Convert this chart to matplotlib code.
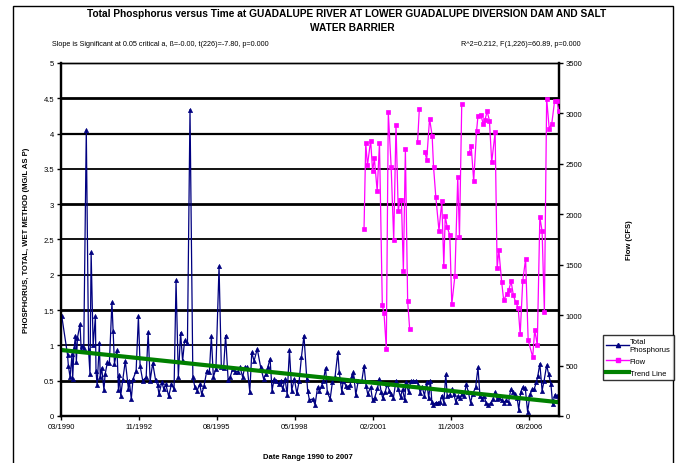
import numpy as np
import matplotlib
matplotlib.use("Agg")
import matplotlib.pyplot as plt
import matplotlib.dates as mdates
from matplotlib.lines import Line2D
from matplotlib.patches import Rectangle
from datetime import datetime, timedelta

plt.rcParams['font.family'] = ['Liberation Sans', 'DejaVu Sans']

# Total phosphorus samples (decimal year, mg/L)
p_year = [1990.19, 1990.39, 1990.42, 1990.48, 1990.55, 1990.57, 1990.62, 1990.67, 1990.70, 1990.74,
          1990.83, 1990.87, 1990.91, 1990.96, 1991.05, 1991.13, 1991.18, 1991.22, 1991.29, 1991.37,
          1991.39, 1991.43, 1991.51, 1991.54, 1991.59, 1991.67, 1991.71, 1991.79, 1991.86, 1991.95,
          1991.99, 1992.04, 1992.13, 1992.18, 1992.21, 1992.26, 1992.33, 1992.42, 1992.53, 1992.56,
          1992.63, 1992.69, 1992.80, 1992.88, 1992.94, 1993.03, 1993.15, 1993.22, 1993.29, 1993.38,
          1993.48, 1993.55, 1993.60, 1993.70, 1993.77, 1993.84, 1993.94, 1994.04, 1994.13, 1994.20,
          1994.28, 1994.36, 1994.43, 1994.50, 1994.60, 1994.69, 1994.79, 1994.86, 1994.94, 1995.03,
          1995.10, 1995.18, 1995.28, 1995.37, 1995.44, 1995.51, 1995.60, 1995.71, 1995.79, 1995.87,
          1995.94, 1996.03, 1996.10, 1996.19, 1996.28, 1996.37, 1996.45, 1996.54, 1996.61, 1996.70,
          1996.79, 1996.86, 1996.94, 1997.05, 1997.17, 1997.27, 1997.35, 1997.42, 1997.50, 1997.57,
          1997.64, 1997.72, 1997.80, 1997.87, 1997.94, 1998.03, 1998.10, 1998.18, 1998.26, 1998.35,
          1998.44, 1998.52, 1998.60, 1998.69, 1998.79, 1998.82, 1998.88,
          1999.00, 1999.08, 1999.17, 1999.23, 1999.31, 1999.37, 1999.45, 1999.51, 1999.61, 1999.69,
          1999.78, 1999.88, 1999.93, 2000.02, 2000.07, 2000.16, 2000.23, 2000.31, 2000.37, 2000.43,
          2000.51, 2000.60, 2000.72, 2000.80, 2000.87, 2000.93, 2001.03, 2001.10, 2001.17, 2001.27,
          2001.33, 2001.40, 2001.45, 2001.54, 2001.61, 2001.69, 2001.76, 2001.83, 2001.92, 2002.00,
          2002.08, 2002.15, 2002.23, 2002.27, 2002.36, 2002.44, 2002.53, 2002.63, 2002.71, 2002.77,
          2002.84, 2002.92, 2003.00, 2003.07, 2003.13, 2003.18, 2003.23, 2003.32, 2003.39, 2003.47,
          2003.53, 2003.60, 2003.67, 2003.72, 2003.81, 2003.88, 2003.95, 2004.02, 2004.10, 2004.17,
          2004.25, 2004.32, 2004.39, 2004.46, 2004.54, 2004.61, 2004.72, 2004.80, 2004.87, 2004.94,
          2005.01, 2005.08, 2005.16, 2005.25, 2005.32, 2005.40, 2005.47, 2005.55, 2005.63, 2005.70,
          2005.78, 2005.87, 2005.95, 2006.02, 2006.10, 2006.17, 2006.23, 2006.30, 2006.37, 2006.46,
          2006.54, 2006.63, 2006.71, 2006.77, 2006.85, 2006.90, 2006.97, 2007.05, 2007.12, 2007.21,
          2007.28, 2007.36, 2007.42, 2007.50, 2007.56, 2007.64]
p_val = [1.41, 0.87, 0.71, 0.55, 0.88, 0.52, 0.96, 1.14, 0.76, 1.11,
         1.30, 0.93, 0.99, 0.97, 4.05, 0.93, 0.59, 2.32, 1.00, 1.41,
         0.64, 0.44, 1.03, 0.55, 0.68, 0.37, 0.59, 0.76, 0.75, 1.61,
         1.21, 0.74, 0.93, 0.37, 0.58, 0.29, 0.51, 0.78, 0.38, 0.50,
         0.24, 0.52, 0.64, 1.41, 0.71, 0.50, 0.55, 1.19, 0.50, 0.75,
         0.51, 0.44, 0.31, 0.48, 0.38, 0.45, 0.28, 0.45, 0.38, 1.92,
         0.55, 1.18, 0.78, 1.07, 1.04, 4.34, 0.55, 0.41, 0.36, 0.45,
         0.31, 0.42, 0.64, 0.62, 1.13, 0.55, 0.67, 2.12, 0.69, 0.68,
         1.14, 0.51, 0.55, 0.67, 0.63, 0.63, 0.69, 0.55, 0.69, 0.69,
         0.34, 0.90, 0.78, 0.95, 0.69, 0.53, 0.59, 0.69, 0.81, 0.36,
         0.52, 0.49, 0.45, 0.50, 0.38, 0.52, 0.30, 0.93, 0.36, 0.53,
         0.32, 0.49, 0.83, 1.14, 0.52, 0.36, 0.23,
         0.24, 0.16, 0.41, 0.36, 0.43, 0.50, 0.68, 0.34, 0.24, 0.48,
         0.55, 0.90, 0.62, 0.34, 0.50, 0.43, 0.41, 0.44, 0.57, 0.62,
         0.30, 0.50, 0.49, 0.71, 0.43, 0.31, 0.41, 0.22, 0.26, 0.39,
         0.52, 0.34, 0.26, 0.34, 0.45, 0.36, 0.31, 0.26, 0.50, 0.38,
         0.27, 0.38, 0.22, 0.48, 0.34, 0.49, 0.49, 0.50, 0.44, 0.33,
         0.41, 0.29, 0.48, 0.25, 0.50, 0.20, 0.16, 0.19, 0.19, 0.20,
         0.29, 0.19, 0.59, 0.28, 0.30, 0.38, 0.31, 0.20, 0.29, 0.26,
         0.31, 0.29, 0.45, 0.34, 0.19, 0.31, 0.41, 0.69, 0.28, 0.24,
         0.29, 0.19, 0.15, 0.19, 0.24, 0.34, 0.24, 0.25, 0.23, 0.19,
         0.22, 0.19, 0.38, 0.34, 0.31, 0.26, 0.09, 0.34, 0.41, 0.39,
         0.06, 0.31, 0.38, 0.38, 0.48, 0.57, 0.74, 0.36, 0.50, 0.72,
         0.59, 0.45, 0.17, 0.30, 0.29, 0.25]

# Flow (decimal year, cfs); nan marks breaks in the record
flow_year = [2000.80, 2000.86, 2000.92, 2001.03, 2001.10, 2001.16, 2001.26, 2001.34, 2001.44, 2001.50,
             2001.58, 2001.65, 2001.75, 2001.84, 2001.92, 2002.00, 2002.06, 2002.11, 2002.18, 2002.25,
             2002.33, 2002.40, 2002.55, 2002.68, 2002.74, 2002.84, 2002.93, 2003.00, 2003.10, 2003.19,
             2003.24, 2003.32, 2003.43, 2003.53, 2003.60, 2003.65, 2003.72, 2003.81, 2003.88, 2003.99,
             2004.09, 2004.15, 2004.23, 2004.36, 2004.49, 2004.56, 2004.65, 2004.75, 2004.80, 2004.90,
             2004.98, 2005.04, 2005.12, 2005.20, 2005.28, 2005.40, 2005.47, 2005.53, 2005.63, 2005.70,
             2005.80, 2005.88, 2005.96, 2006.04, 2006.12, 2006.21, 2006.28, 2006.37, 2006.47, 2006.56,
             2006.72, 2006.79, 2006.88, 2006.97, 2007.05, 2007.13, 2007.21, 2007.30, 2007.39, 2007.49,
             2007.56, 2007.64]
flow_val = [1856, 2708, 2486, 2731, 2427, 2556, 2229, 2708, 1096, 1017,
            667, 3011, 2470, 1743, 2883, 2031, 2146, 2146, 1436, 2652,
            1136, 865, np.nan, 2721, 3048, np.nan, 2618, 2543, 2949, 2780,
            2467, 2169, 1839, 2130, 1486, 1981, 1872, 1793, 1106, 1393,
            2367, 1776, 3091, np.nan, 2609, 2681, 2328, 2823, 2978, 2988,
            2899, 2932, 3021, 2929, 2516, 2813, 1463, 1644, 1327, 1149,
            1205, 1248, 1337, 1199, 1129, 1073, 809, 1337, 1559, 753,
            584, 852, 703, 1971, 1833, 1034, 3147, 2850, 2899, 3127,
            3127, 3028]


def to_date(y):
    yr = int(y)
    return datetime(yr, 1, 1) + timedelta(days=(y - yr) * 365.25)


p_dates = [to_date(y) for y in p_year]
flow_dates = [to_date(y) for y in flow_year]

# linear trend of phosphorus against time
p_num = mdates.date2num(p_dates)
slope, icept = np.polyfit(p_num, p_val, 1)

start = datetime(1990, 3, 1)
end = start + timedelta(days=6385)
trend_x = mdates.date2num([start, end])

fig = plt.figure(figsize=(6.8, 4.64), dpi=100)
fig.add_artist(Rectangle((13 / 680, -0.05), 660 / 680, 1 - 7 / 464 + 0.05,
                         transform=fig.transFigure, fill=False, ec='black', lw=1))

ax = fig.add_axes([61 / 680, 1 - 417 / 464, 498 / 680, 353 / 464])
ax2 = ax.twinx()

grid_w = [2.0, 1.3, 2.0, 1.3, 1.3, 2.0, 1.3, 1.6, 2.0]
for g, w in zip(np.arange(0.5, 5.0, 0.5), grid_w):
    ax.axhline(g, color='black', lw=w, zorder=1)

ax.plot(p_dates, p_val, color='#000080', lw=0.9, marker='^', ms=3.0,
        markeredgewidth=0.5, zorder=3)
ax.plot(trend_x, slope * trend_x + icept, color='#008000', lw=3, zorder=4)
ax2.plot(flow_dates, flow_val, color='#FF00FF', lw=0.9, marker='s', ms=2.8,
         markeredgewidth=0.5, zorder=3)

ax.set_ylim(0, 5)
ax.set_yticks(np.arange(0, 5.01, 0.5))
ax.set_yticklabels(['0', '0.5', '1', '1.5', '2', '2.5', '3', '3.5', '4', '4.5', '5'])
ax2.set_ylim(0, 3500)
ax2.set_yticks(np.arange(0, 3501, 500))

ax.set_xlim(start, end)
ax.set_xticks([start + timedelta(days=1000 * k) for k in range(7)])
ax.xaxis.set_major_formatter(mdates.DateFormatter('%m/%Y'))

for a in (ax, ax2):
    a.tick_params(labelsize=5.5, length=3, width=1, colors='black', pad=2)
    for s in a.spines.values():
        s.set_linewidth(1)
    a.spines['left'].set_linewidth(1.6)
    a.spines['bottom'].set_linewidth(1.6)
    a.spines['right'].set_linewidth(1.6)

ax.set_ylabel('PHOSPHORUS, TOTAL, WET METHOD (MG/L AS P)', fontsize=5.5,
              fontweight='bold', labelpad=10)
ax2.set_ylabel('Flow (CFS)', fontsize=5.5, fontweight='bold', labelpad=31)
fig.text(308 / 680, 1 - 458 / 464, 'Date Range 1990 to 2007', ha='center', va='center',
         fontsize=5.5, fontweight='bold')

fig.text(347 / 680, 1 - 14 / 464, 'Total Phosphorus versus Time at GUADALUPE RIVER AT LOWER GUADALUPE DIVERSION DAM AND SALT',
         ha='center', va='center', fontsize=7.3, fontweight='bold')
fig.text(352 / 680, 1 - 28 / 464, 'WATER BARRIER', ha='center', va='center',
         fontsize=7.3, fontweight='bold')
fig.text(52 / 680, 1 - 45 / 464,
         'Slope is Significant at 0.05 critical a, \u00df=-0.00, t(226)=-7.80, p=0.000',
         ha='left', va='center', fontsize=5.2)
fig.text(581 / 680, 1 - 45 / 464, 'R^2=0.212, F(1,226)=60.89, p=0.000',
         ha='right', va='center', fontsize=5.2)

handles = [Line2D([], [], color='#000080', marker='^', ms=3, lw=1),
           Line2D([], [], color='#FF00FF', marker='s', ms=3, lw=1),
           Line2D([], [], color='#008000', lw=3)]
fig.legend(handles, ['Total\nPhosphorus', 'Flow', 'Trend Line'],
           loc='upper left', bbox_to_anchor=(603 / 680, 1 - 336 / 464),
           fontsize=5.5, frameon=True, fancybox=False, edgecolor='black',
           handlelength=3, handletextpad=0.1, borderpad=0.4, labelspacing=0.6,
           borderaxespad=0)

fig.savefig('out.png', dpi=100)
